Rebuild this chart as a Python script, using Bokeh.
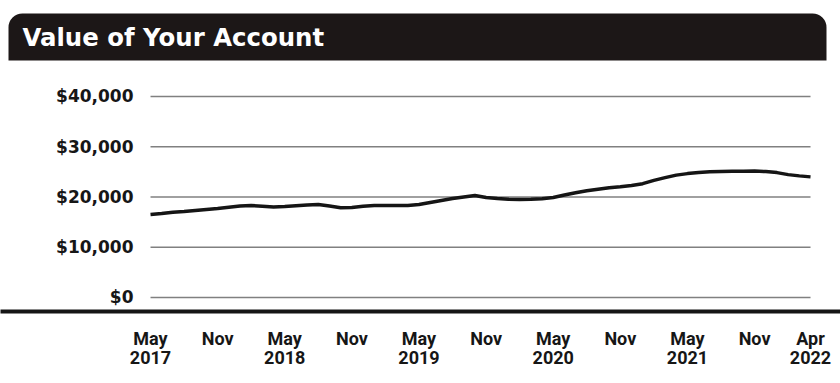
from bokeh.plotting import figure
from bokeh.models import Range1d, FixedTicker, BoxAnnotation, Label
from bokeh.core.properties import value
from bokeh.embed import file_html
from bokeh.resources import INLINE

# ---- data ----
title_text = "Value of Your Account"
y_ticks = [0, 10000, 20000, 30000, 40000]
y_labels = ["$0", "$10,000", "$20,000", "$30,000", "$40,000"]
x_tick_months = [0, 6, 12, 18, 24, 30, 36, 42, 48, 54, 59]
x_tick_labels = ["May\n2017", "Nov", "May\n2018", "Nov", "May\n2019", "Nov",
                 "May\n2020", "Nov", "May\n2021", "Nov", "Apr\n2022"]
# month index 0 = May 2017 ... 59 = Apr 2022
account_value = [
    16500, 16700, 16950, 17100, 17300, 17500, 17700, 17950, 18200, 18300,
    18150, 18000, 18100, 18250, 18400, 18500, 18200, 17850, 17900, 18150,
    18300, 18300, 18300, 18300, 18500, 18900, 19300, 19700, 20000, 20300,
    19900, 19700, 19550, 19500, 19550, 19650, 19900, 20400, 20850, 21250,
    21550, 21850, 22050, 22300, 22650, 23300, 23850, 24350, 24650, 24850,
    25000, 25050, 25100, 25100, 25150, 25050, 24850, 24450, 24200, 24000,
]
months = list(range(len(account_value)))

W, H = 840, 383
p = figure(width=W, height=H, output_backend="svg", toolbar_location=None,
           x_range=Range1d(-13.41, 61.68), y_range=Range1d(-2790, 59100),
           min_border_left=0, min_border_right=0, min_border_top=0,
           min_border_bottom=72, outline_line_color=None,
           background_fill_color="white", border_fill_color="white")
p.yaxis.visible = False
p.xgrid.visible = False
p.ygrid.visible = False

# gridlines spanning the data period
p.segment(x0=[months[0]] * len(y_ticks), x1=[months[-1]] * len(y_ticks),
          y0=y_ticks, y1=y_ticks, line_color="#808080", line_width=1.5)

# y tick labels
p.text(x=[months[0]] * len(y_ticks), y=y_ticks, text=y_labels, x_offset=-17,
       text_align="right", text_baseline="middle",
       text_font=value("DejaVu Sans"), text_font_style="bold",
       text_font_size="17px", text_color="#161616")

# data line
p.line(months, account_value, line_color="#151515", line_width=3.5,
       line_join="round")

# x axis as heavy baseline
ax = p.xaxis[0]
ax.ticker = FixedTicker(ticks=x_tick_months)
ax.major_label_overrides = {m: l for m, l in zip(x_tick_months, x_tick_labels)}
ax.axis_line_color = "#151515"
ax.axis_line_width = 4
ax.major_tick_in = 0
ax.major_tick_out = 0
ax.minor_tick_line_color = None
ax.major_tick_line_color = None
ax.major_label_standoff = 16
ax.major_label_text_font = "Roboto"
ax.major_label_text_font_style = "bold"
ax.major_label_text_font_size = "18px"
ax.major_label_text_color = "#161616"
ax.major_label_text_line_height = 0.95

# title bar
bar = BoxAnnotation(left=8, right=826, top=13, bottom=60,
                    left_units="canvas", right_units="canvas",
                    top_units="canvas", bottom_units="canvas",
                    fill_color="#1c1717", fill_alpha=1.0, line_color=None,
                    border_radius=(14, 14, 0, 0), level="underlay")
p.add_layout(bar)
p.add_layout(Label(x=22, y=274, x_units="screen", y_units="screen",
                   text=title_text, text_color="white",
                   text_font="DejaVu Sans", text_font_style="bold",
                   text_font_size="24.4px", text_baseline="middle"))

open("out.html", "w").write(file_html(p, INLINE))
